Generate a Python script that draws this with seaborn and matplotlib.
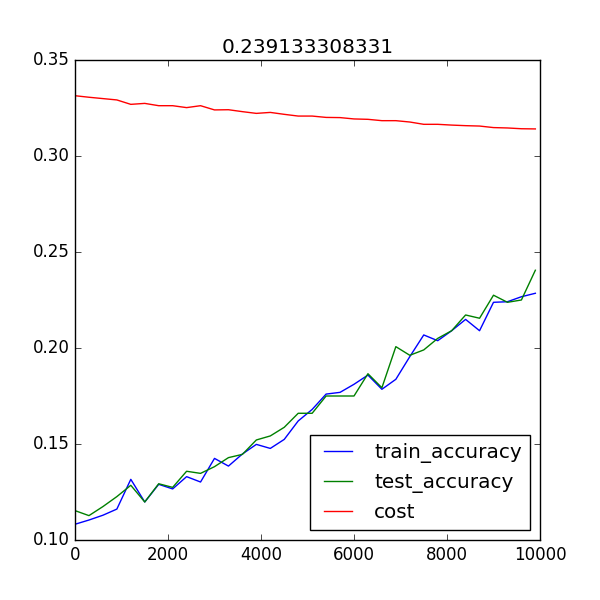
import matplotlib
matplotlib.use("Agg")
import matplotlib.pyplot as plt
import numpy as np
import pandas as pd
import seaborn as sns

# training steps (logged every 300 iterations)
steps = list(range(0, 10000, 300))

train_accuracy = [
    0.1082, 0.1104, 0.1129, 0.1161, 0.1316, 0.1198, 0.1290, 0.1266, 0.1330, 0.1302,
    0.1425, 0.1385, 0.1448, 0.1498, 0.1477, 0.1524, 0.1620, 0.1680, 0.1760, 0.1769,
    0.1811, 0.1859, 0.1785, 0.1837, 0.1955, 0.2068, 0.2038, 0.2090, 0.2149, 0.2090,
    0.2238, 0.2241, 0.2267, 0.2285,
]

test_accuracy = [
    0.1153, 0.1127, 0.1174, 0.1226, 0.1285, 0.1198, 0.1293, 0.1274, 0.1358, 0.1347,
    0.1382, 0.1429, 0.1446, 0.1521, 0.1542, 0.1587, 0.1660, 0.1660, 0.1750, 0.1750,
    0.1750, 0.1866, 0.1793, 0.2007, 0.1962, 0.1990, 0.2050, 0.2090, 0.2172, 0.2155,
    0.2275, 0.2238, 0.2250, 0.2405,
]

cost = [
    0.3314, 0.3306, 0.3299, 0.3292, 0.3269, 0.3274, 0.3262, 0.3262, 0.3252, 0.3262,
    0.3240, 0.3241, 0.3231, 0.3222, 0.3227, 0.3217, 0.3208, 0.3208, 0.3201, 0.3200,
    0.3193, 0.3191, 0.3184, 0.3184, 0.3177, 0.3165, 0.3165, 0.3161, 0.3158, 0.3156,
    0.3148, 0.3146, 0.3142, 0.3141,
]

title_text = "0.239133308331"

plt.style.use("classic")
plt.rcParams["figure.facecolor"] = "white"
plt.rcParams["savefig.facecolor"] = "white"

df = pd.DataFrame({
    "step": steps,
    "train_accuracy": train_accuracy,
    "test_accuracy": test_accuracy,
    "cost": cost,
})

fig = plt.figure(figsize=(6, 6), dpi=100)
ax = fig.add_subplot(111)

sns.lineplot(data=df, x="step", y="train_accuracy", color="b", label="train_accuracy", ax=ax)
sns.lineplot(data=df, x="step", y="test_accuracy", color="g", label="test_accuracy", ax=ax)
sns.lineplot(data=df, x="step", y="cost", color="r", label="cost", ax=ax)

ax.set_xlim(0, 10000)
ax.set_ylim(0.10, 0.35)
ax.set_xlabel("")
ax.set_ylabel("")
ax.set_title(title_text)
ax.legend(loc="lower right")

fig.savefig("out.png", dpi=100)
